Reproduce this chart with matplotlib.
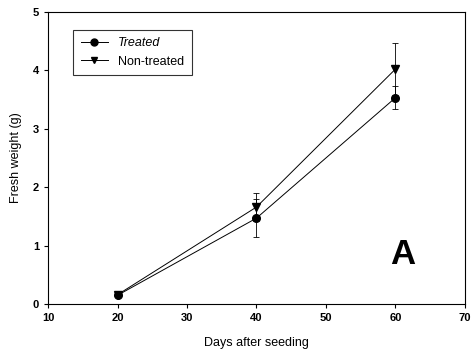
import matplotlib
matplotlib.use("Agg")
import matplotlib.pyplot as plt
from matplotlib.lines import Line2D

plt.rcParams['font.family'] = ['Liberation Sans', 'DejaVu Sans']

days = [20, 40, 60]
treated = [0.15, 1.47, 3.53]
treated_err = [0.0, 0.32, 0.2]
non_treated = [0.16, 1.66, 4.02]
non_treated_err = [0.0, 0.24, 0.45]

fig = plt.figure(figsize=(4.71, 3.59), dpi=100)
ax = fig.add_axes([0.102, 0.153, 0.885, 0.814])

ax.errorbar(days, treated, yerr=treated_err, color='black', lw=0.7,
            marker='o', markersize=5.5, capsize=2.5, elinewidth=0.6,
            capthick=0.6)
ax.errorbar(days, non_treated, yerr=non_treated_err, color='black', lw=0.7,
            marker='v', markersize=5.5, capsize=2.5, elinewidth=0.6,
            capthick=0.6)

ax.set_xlim(10, 70)
ax.set_ylim(0, 5)
ax.set_xticks([10, 20, 30, 40, 50, 60, 70])
ax.set_yticks([0, 1, 2, 3, 4, 5])
ax.tick_params(direction='out', length=3, width=0.8, labelsize=8)
for lab in ax.get_xticklabels() + ax.get_yticklabels():
    lab.set_fontweight('bold')

ax.set_xlabel('Days after seeding', fontsize=9, labelpad=10)
ax.set_ylabel('Fresh weight (g)', fontsize=9, labelpad=8)

# legend without errorbar glyphs
handles = [Line2D([], [], color='black', lw=0.7, marker='o', markersize=5),
           Line2D([], [], color='black', lw=0.7, marker='v', markersize=5)]
leg = ax.legend(handles, ['Treated', 'Non-treated'], loc='upper left',
                bbox_to_anchor=(0.045, 0.96), fontsize=9,
                frameon=True, fancybox=False, edgecolor='black',
                handlelength=2.2, borderpad=0.6, labelspacing=0.5)
leg.get_frame().set_linewidth(0.8)
leg.get_texts()[0].set_style('italic')

ax.text(61, 0.84, 'A', fontsize=25, fontweight='bold', ha='center', va='center')

fig.savefig('out.png', dpi=100)
